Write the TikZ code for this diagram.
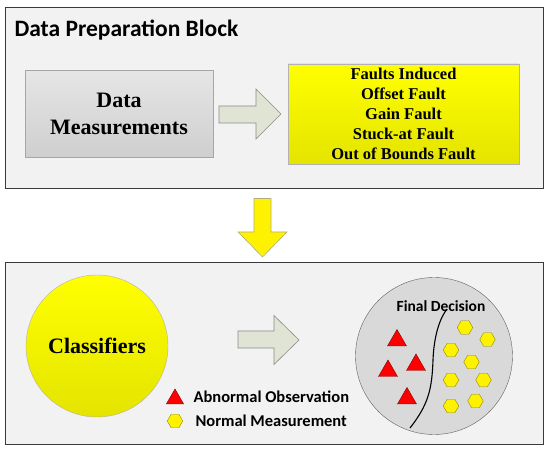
\documentclass[tikz,border=0pt]{standalone}
\usepackage{fontspec}
\setmainfont{Liberation Serif}
\newfontfamily\calibri{Carlito}
\usetikzlibrary{shapes.geometric}
\definecolor{panelgray}{HTML}{F2F2F2}
\definecolor{edgegray}{HTML}{3A3A3A}
\definecolor{arrowgray}{HTML}{E0E4D4}
\definecolor{arrowedge}{HTML}{8A8A8A}
\definecolor{decgray}{HTML}{D9D9D9}
\definecolor{darkyellow}{HTML}{E4E400}
\definecolor{hexedge}{HTML}{8C8C00}
\tikzset{
  panel/.style={draw=edgegray, fill=panelgray, line width=1pt, inner sep=0pt, anchor=north west},
  blockarrow/.style={draw=arrowedge, fill=arrowgray, line width=0.6pt, line join=miter},
  abnormal/.style={regular polygon, regular polygon sides=3, fill=red, draw=red!50!black, line width=0.4pt, minimum size=22pt, inner sep=0pt},
  normal/.style={regular polygon, regular polygon sides=6, fill=yellow, draw=hexedge, line width=0.4pt, minimum size=15.5pt, inner sep=0pt},
  legendtext/.style={anchor=west, font=\calibri\bfseries\fontsize{16.5}{19}\selectfont}
}

\begin{document}
\begin{tikzpicture}[x=1pt, y=-1pt]
    \useasboundingbox (0,0) rectangle (550,449);

    % Data preparation block
    \node[panel, minimum width=538pt, minimum height=181pt] (prep) at (5,7) {};
    \node[anchor=west, font=\calibri\bfseries\fontsize{23.5}{27}\selectfont] (preptitle) at (11,30) {Data Preparation Block};
    \node[draw=gray!70, top color=gray!20, bottom color=gray!38, minimum width=188pt, minimum height=87pt, align=center, font=\bfseries\fontsize{22}{26.5}\selectfont] (meas) at (119,114) {Data\\Measurements};
    \node[draw=gray!60, top color=yellow, bottom color=darkyellow, minimum width=231pt, minimum height=100pt, align=center, font=\bfseries\fontsize{16.5}{20}\selectfont] (faults) at (403.5,114) {Faults Induced\\Offset Fault\\Gain Fault\\Stuck-at Fault\\Out of Bounds Fault};
    \filldraw[blockarrow] (219,106) -- (256,106) -- (256,89) -- (281,114) -- (256,139) -- (256,123) -- (219,123) -- cycle;

    % Down arrow
    \filldraw[draw=gray!70!yellow, fill=yellow, line width=0.6pt] (254,198.5) -- (271,198.5) -- (271,232) -- (287,232) -- (262.5,257) -- (238,232) -- (254,232) -- cycle;

    % Classification block
    \node[panel, minimum width=538pt, minimum height=182pt] (clsblock) at (5,262.5) {};
    \node[circle, draw=gray!60, top color=yellow, bottom color=darkyellow, minimum size=142pt, inner sep=0pt, font=\bfseries\fontsize{22}{26}\selectfont] (clf) at (97,346) {Classifiers};
    \filldraw[blockarrow] (238,331) -- (274,331) -- (274,315.5) -- (299,340) -- (274,364.5) -- (274,348) -- (238,348) -- cycle;

    % Legend
    \node[abnormal, minimum size=20pt] (legtri) at (175,399) {};
    \node[legendtext] (legab) at (190,397) {Abnormal Observation};
    \node[normal] (leghex) at (175,421) {};
    \node[legendtext] (legno) at (192,421) {Normal Measurement};

    % Final decision
    \node[circle, draw=gray!75!black, fill=decgray, minimum size=157pt, inner sep=0pt] (dec) at (434,356) {};
    \node[font=\calibri\bfseries\fontsize{15.5}{18}\selectfont] (dectitle) at (441,306) {Final Decision};
    \draw[line width=1.1pt] (410,428) .. controls (428,405) and (432,390) .. (433,360) .. controls (434,335) and (440,318) .. (447,309);
    \foreach \n/\p in {t1/{397,340.5}, t2/{388,371}, t3/{416,365}, t4/{407,398.5}}{
        \node[abnormal] (\n) at (\p) {};
    }
    \foreach \n/\p in {h1/{465,327.5}, h2/{487.5,339.5}, h3/{451,350}, h4/{471.5,362}, h5/{451,380}, h6/{483.5,380}, h7/{451,406}, h8/{475.5,401}}{
        \node[normal] (\n) at (\p) {};
    }
\end{tikzpicture}
\end{document}
